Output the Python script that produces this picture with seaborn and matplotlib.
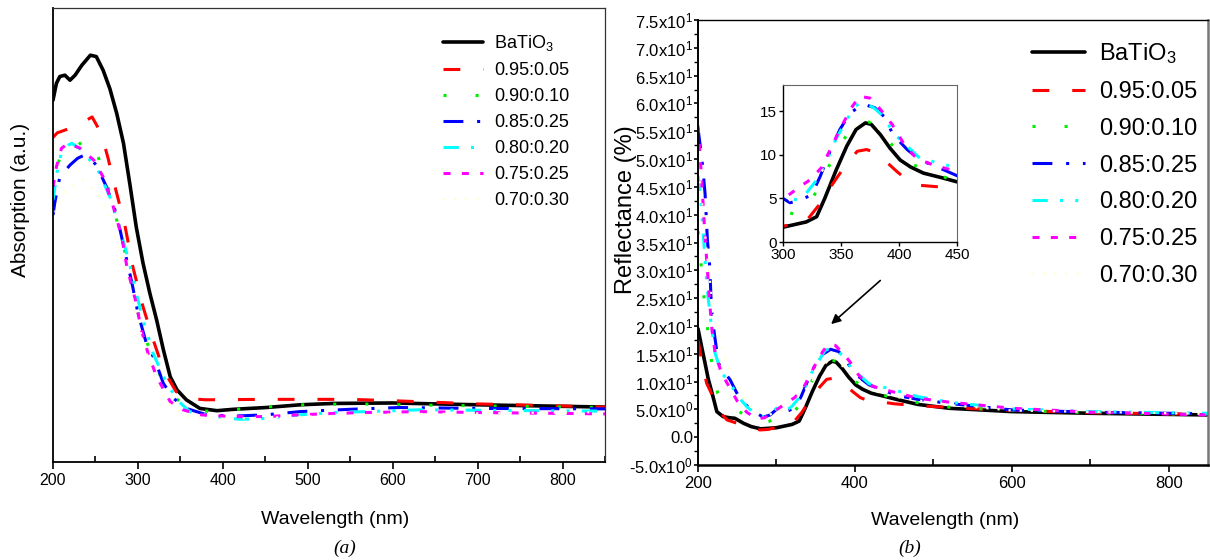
import numpy as np
import pandas as pd
import matplotlib
matplotlib.use("Agg")
import matplotlib.pyplot as plt
from matplotlib.ticker import MultipleLocator, FuncFormatter
import seaborn as sns

# ---- data: (a) absorption, arbitrary units ----
wl_a_black = [200, 204, 208, 214, 220, 226, 234, 244, 251, 259, 267, 275, 283, 291, 298, 306, 314, 322, 330, 338,
              346, 357, 373, 393, 412, 451, 491, 530, 600, 700, 850]
abs_black = [0.797, 0.834, 0.849, 0.852, 0.841, 0.852, 0.874, 0.896, 0.893, 0.863, 0.822, 0.768, 0.702, 0.606,
             0.518, 0.438, 0.372, 0.313, 0.247, 0.188, 0.159, 0.137, 0.118, 0.113, 0.116, 0.120, 0.126, 0.129,
             0.130, 0.126, 0.121]
wl_a_095 = [200, 205, 220, 235, 246, 252, 259, 265, 271, 278, 285, 294, 306, 318, 330, 345, 357, 380, 450, 550,
            600, 700, 850]
abs_095 = [0.715, 0.725, 0.735, 0.748, 0.760, 0.740, 0.709, 0.668, 0.621, 0.570, 0.518, 0.430, 0.342, 0.269,
           0.203, 0.155, 0.140, 0.137, 0.138, 0.138, 0.135, 0.128, 0.121]
wl_a_090 = [200, 205, 210, 220, 230, 238, 245, 251, 261, 269, 277, 285, 293, 298, 306, 318, 326, 338, 359, 385,
            412, 440, 467, 495, 550, 650, 850]
abs_090 = [0.590, 0.650, 0.683, 0.680, 0.698, 0.713, 0.700, 0.683, 0.632, 0.577, 0.518, 0.460, 0.394, 0.346,
           0.283, 0.232, 0.192, 0.151, 0.118, 0.111, 0.115, 0.120, 0.123, 0.126, 0.128, 0.125, 0.120]
wl_a_085 = [200, 202, 208, 220, 229, 237, 244, 251, 263, 273, 279, 285, 293, 300, 310, 320, 330, 342, 357, 381,
            412, 451, 491, 549, 608, 700, 850]
abs_085 = [0.544, 0.570, 0.628, 0.654, 0.669, 0.676, 0.668, 0.654, 0.606, 0.555, 0.511, 0.460, 0.394, 0.328,
           0.261, 0.225, 0.173, 0.140, 0.118, 0.104, 0.101, 0.104, 0.111, 0.116, 0.120, 0.118, 0.117]
wl_a_080 = [200, 205, 210, 218, 222, 234, 253, 267, 279, 289, 298, 306, 318, 330, 346, 361, 389, 420, 451, 491,
            530, 569, 632, 700, 850]
abs_080 = [0.577, 0.640, 0.683, 0.698, 0.702, 0.687, 0.643, 0.584, 0.511, 0.445, 0.372, 0.313, 0.239, 0.188,
           0.137, 0.111, 0.100, 0.094, 0.096, 0.104, 0.109, 0.111, 0.115, 0.114, 0.112]
wl_a_075 = [200, 204, 210, 218, 232, 248, 259, 271, 281, 287, 297, 304, 312, 322, 338, 353, 373, 412, 451, 491,
            530, 569, 632, 700, 850]
abs_075 = [0.606, 0.650, 0.691, 0.702, 0.691, 0.665, 0.628, 0.562, 0.496, 0.430, 0.357, 0.291, 0.239, 0.188,
           0.133, 0.115, 0.104, 0.100, 0.100, 0.104, 0.107, 0.109, 0.111, 0.109, 0.106]
wl_a_070 = [200, 215, 235, 250, 265, 280, 295, 310, 325, 340, 360, 400, 500, 600, 850]
abs_070 = [0.55, 0.60, 0.62, 0.60, 0.55, 0.45, 0.34, 0.24, 0.16, 0.12, 0.10, 0.095, 0.10, 0.105, 0.11]

# ---- data: (b) reflectance (%) ----
wl_b_black = [200, 205, 209, 213, 218, 224, 232, 240, 247, 258, 268, 280, 290, 300, 310, 320, 329, 336, 346, 355,
              363, 371, 376, 384, 392, 401, 410, 421, 436, 450, 480, 520, 600, 700, 850]
ref_black = [19.5, 16.0, 13.3, 10.5, 7.9, 4.6, 3.7, 3.5, 3.4, 2.5, 1.9, 1.5, 1.6, 1.7, 2.0, 2.3, 2.9, 5.0, 8.3,
             11.0, 12.9, 13.65, 13.5, 12.3, 10.8, 9.4, 8.6, 7.9, 7.4, 6.9, 5.9, 5.2, 4.6, 4.3, 4.0]
wl_b_095 = [200, 205, 211, 219, 228, 237, 250, 265, 279, 290, 300, 310, 320, 332, 343, 355, 364, 372, 381, 389,
            398, 407, 418, 436, 450, 488, 539, 586, 700, 850]
ref_095 = [17.5, 13.5, 9.7, 7.3, 4.5, 3.1, 2.5, 1.8, 1.3, 1.4, 1.8, 2.1, 2.4, 4.4, 6.7, 9.0, 10.4, 10.6, 10.2,
           9.2, 8.1, 7.1, 6.5, 6.3, 6.0, 5.6, 5.2, 4.9, 4.4, 4.1]
wl_b_090 = [200, 204, 207, 211, 215, 220, 225, 232, 245, 256, 268, 279, 290, 300, 310, 320, 330, 340, 350, 360,
            368, 376, 385, 393, 401, 410, 420, 435, 450, 480, 520, 600, 700, 850]
ref_090 = [37.0, 31.0, 25.9, 21.1, 16.0, 10.9, 8.0, 6.4, 5.2, 4.3, 3.3, 2.5, 2.8, 3.5, 3.2, 4.0, 6.0, 8.8, 11.3,
           13.2, 13.9, 13.7, 12.6, 11.3, 10.0, 9.0, 8.4, 7.6, 7.0, 6.2, 5.4, 4.8, 4.4, 4.1]
wl_b_085 = [200, 205, 209, 212, 215, 217, 220, 226, 233, 241, 254, 265, 275, 283, 292, 300, 306, 316, 325, 332,
            340, 349, 358, 369, 379, 387, 395, 407, 418, 433, 450, 480, 518, 600, 700, 850]
ref_085 = [55.5, 50.0, 43.8, 35.4, 30.6, 23.5, 19.5, 13.3, 11.8, 10.3, 6.7, 5.3, 4.3, 3.6, 4.0, 5.0, 4.5, 4.8,
           5.5, 7.5, 10.2, 12.9, 14.8, 15.8, 15.4, 14.4, 12.3, 10.6, 9.4, 8.6, 7.6, 6.8, 6.1, 4.9, 4.5, 4.2]
wl_b_080 = [200, 204, 207, 210, 213, 217, 222, 230, 240, 250, 262, 275, 285, 295, 300, 313, 320, 329, 338, 346,
            355, 362, 369, 378, 387, 395, 407, 418, 436, 450, 480, 520, 600, 700, 850]
ref_080 = [47.0, 42.0, 36.0, 30.0, 25.0, 20.0, 15.0, 11.5, 10.0, 7.5, 5.5, 4.0, 3.6, 4.5, 5.2, 4.8, 5.6, 7.1,
           9.4, 11.9, 14.0, 15.6, 16.0, 15.4, 14.4, 12.5, 11.0, 9.6, 9.0, 8.5, 7.3, 6.3, 5.1, 4.6, 4.3]
wl_b_075 = [200, 203, 206, 209, 212, 215, 218, 222, 230, 240, 250, 262, 275, 285, 295, 301, 313, 323, 333, 340,
            349, 359, 366, 375, 384, 394, 404, 415, 430, 450, 480, 520, 600, 700, 850]
ref_075 = [56.0, 50.0, 43.0, 36.0, 30.0, 24.0, 19.0, 15.0, 11.5, 9.0, 6.5, 4.5, 3.3, 3.5, 4.6, 5.0, 6.2, 7.1,
           8.5, 10.4, 12.9, 15.4, 16.7, 16.5, 15.2, 13.5, 11.3, 9.6, 8.8, 8.1, 7.0, 6.3, 5.2, 4.5, 4.0]
wl_b_070 = [200, 210, 220, 235, 250, 270, 290, 310, 340, 360, 372, 390, 420, 450, 520, 600, 850]
ref_070 = [50, 35, 22, 14, 9, 5, 4, 5, 9, 13, 14.5, 12, 8.5, 7.3, 5.8, 4.8, 4.2]

labels = ["BaTiO$_3$", "0.95:0.05", "0.90:0.10", "0.85:0.25", "0.80:0.20", "0.75:0.25", "0.70:0.30"]

series_a = [(wl_a_black, abs_black), (wl_a_095, abs_095), (wl_a_090, abs_090), (wl_a_085, abs_085),
            (wl_a_080, abs_080), (wl_a_075, abs_075), (wl_a_070, abs_070)]
series_b = [(wl_b_black, ref_black), (wl_b_095, ref_095), (wl_b_090, ref_090), (wl_b_085, ref_085),
            (wl_b_080, ref_080), (wl_b_075, ref_075), (wl_b_070, ref_070)]

# line styles per series: colour, linewidth, dash pattern
styles = [
    ("black", 2.6, "-"),
    ("#ff0000", 2.2, (0, (5.5, 7.5))),
    ("#00ee00", 2.2, (0, (1.0, 9.5))),
    ("#0000ff", 2.2, (0, (6.5, 4.5, 1.0, 4.5))),
    ("#00ffff", 2.2, (0, (5.0, 4.0, 1.0, 4.0, 1.0, 4.0))),
    ("#ff00ff", 2.2, (0, (2.3, 3.7))),
    ("#ffffd0", 1.6, (0, (1.0, 4.0))),
]

sns.set_theme(style="ticks", rc={
    "axes.edgecolor": "black", "text.color": "black", "axes.labelcolor": "black",
    "xtick.color": "black", "ytick.color": "black",
})
plt.rcParams["font.family"] = ["Liberation Sans", "DejaVu Sans"]
plt.rcParams["mathtext.fontset"] = "custom"
plt.rcParams["mathtext.rm"] = "Liberation Sans"
plt.rcParams["mathtext.default"] = "regular"


def draw_lines(ax, series, with_labels=True):
    for (xs, ys), (col, lw, ls), lab in zip(series, styles, labels):
        df = pd.DataFrame({"wl": xs, "v": ys})
        sns.lineplot(data=df, x="wl", y="v", ax=ax, color=col, linewidth=lw, linestyle=ls,
                     label=lab if with_labels else None, legend=False)


def sci_label(v, pos):
    if abs(v) < 1e-9:
        return "0.0"
    e = int(np.floor(np.log10(abs(v)) + 1e-9))
    m = v / 10 ** e
    return f"{m:.1f}x10$^{{{e}}}$"


fig = plt.figure(figsize=(12.1, 5.6), dpi=100)

# ---------- (a) ----------
ax1 = fig.add_axes([53 / 1210, 1 - 462 / 560, 552 / 1210, 454 / 560])
draw_lines(ax1, series_a)
ax1.set_xlim(200, 850)
ax1.set_ylim(0, 1)
ax1.set_yticks([])
ax1.xaxis.set_major_locator(MultipleLocator(100))
ax1.xaxis.set_minor_locator(MultipleLocator(50))
ax1.tick_params(axis="x", which="major", direction="out", length=5, width=1.2, labelsize=11.5, pad=3)
ax1.tick_params(axis="x", which="minor", direction="in", length=4, width=1.2)
for side in ["left", "bottom"]:
    ax1.spines[side].set_linewidth(1.3)
for side in ["top", "right"]:
    ax1.spines[side].set_linewidth(0.9)
    ax1.spines[side].set_color("#333333")
ax1.set_xlabel("Wavelength (nm)", fontsize=14)
ax1.set_ylabel("Absorption (a.u.)", fontsize=15)
ax1.xaxis.set_label_coords(0.511, -0.108)
ax1.yaxis.set_label_coords(-0.042, 0.577)
ax1.legend(loc="upper left", bbox_to_anchor=(443 / 1210, 1 - 33 / 560), bbox_transform=fig.transFigure,
           frameon=False, fontsize=13, handlelength=2.2, handletextpad=0.65, labelspacing=0.5,
           borderpad=0, borderaxespad=0)

# ---------- (b) ----------
ax2 = fig.add_axes([698 / 1210, 1 - 465 / 560, 510 / 1210, 445 / 560])
draw_lines(ax2, series_b)
ax2.set_xlim(200, 850)
ax2.set_ylim(-5, 75)
ax2.xaxis.set_major_locator(MultipleLocator(200))
ax2.xaxis.set_minor_locator(MultipleLocator(100))
ax2.yaxis.set_major_locator(MultipleLocator(5))
ax2.yaxis.set_minor_locator(MultipleLocator(2.5))
ax2.yaxis.set_major_formatter(FuncFormatter(sci_label))
ax2.tick_params(axis="x", which="major", direction="out", length=5, width=1.2, labelsize=12, pad=3)
ax2.tick_params(axis="x", which="minor", direction="in", length=4, width=1.2)
ax2.tick_params(axis="y", which="major", direction="out", length=3, width=1.2, labelsize=12, pad=0.5)
ax2.tick_params(axis="y", which="minor", direction="out", length=3, width=1.0)
ax2.spines["left"].set_linewidth(1.4)
ax2.spines["bottom"].set_linewidth(1.8)
ax2.spines["top"].set_linewidth(1.0)
ax2.spines["right"].set_linewidth(1.8)
ax2.spines["right"].set_color("#777777")
ax2.set_xlabel("Wavelength (nm)", fontsize=14)
ax2.set_ylabel("Reflectance (%)", fontsize=17)
ax2.xaxis.set_label_coords(0.484, -0.105)
ax2.yaxis.set_label_coords(-0.12, 0.575)
ax2.legend(loc="upper left", bbox_to_anchor=(1032 / 1210, 1 - 41 / 560), bbox_transform=fig.transFigure,
           frameon=False, fontsize=17, handlelength=2.25, handletextpad=0.6, labelspacing=0.63,
           borderpad=0, borderaxespad=0)
ax2.annotate("", xy=(367, 20), xytext=(435, 28.5),
             arrowprops=dict(arrowstyle="-|>", color="black", lw=1.2, mutation_scale=14))

# inset
axin = fig.add_axes([783 / 1210, 1 - 242 / 560, 174 / 1210, 157 / 560])
draw_lines(axin, series_b, with_labels=False)
axin.set_xlim(300, 450)
axin.set_ylim(0, 18)
axin.set_xticks([300, 350, 400, 450])
axin.set_yticks([0, 5, 10, 15])
axin.set_xlabel("")
axin.set_ylabel("")
axin.tick_params(axis="both", which="major", direction="out", length=3, width=1.0, labelsize=11, pad=1.5)
for side in ["left", "bottom"]:
    axin.spines[side].set_linewidth(1.0)
for side in ["top", "right"]:
    axin.spines[side].set_linewidth(0.8)
    axin.spines[side].set_color("#666666")

fig.text(345 / 1210, 1 - 548 / 560, "(a)", ha="center", va="center", fontsize=14,
         family=["Liberation Serif", "DejaVu Serif"], style="italic")
fig.text(910 / 1210, 1 - 548 / 560, "(b)", ha="center", va="center", fontsize=14,
         family=["Liberation Serif", "DejaVu Serif"], style="italic")

fig.savefig("out.png", dpi=100)
